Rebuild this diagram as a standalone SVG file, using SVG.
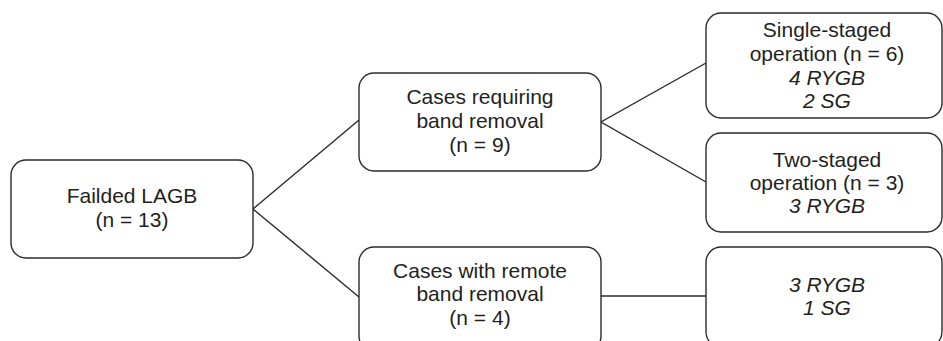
<svg xmlns="http://www.w3.org/2000/svg" width="943" height="341" viewBox="0 0 943 341">
<style>
.box{fill:#fff;stroke:#2b2b2b;stroke-width:1.4}
.t{font-family:"Liberation Sans",Arial,sans-serif;font-size:21px;fill:#231f20;text-anchor:middle}
.i{font-style:italic}
.c{stroke:#2b2b2b;stroke-width:1.4;fill:none}
</style>
<rect width="943" height="341" fill="#fff"/>
<g id="connectors">
<polyline class="c" points="359,120 253,209 359,297"/>
<polyline class="c" points="706,63 601,122 706,182"/>
<line class="c" x1="601" y1="296" x2="706" y2="296"/>
</g>
<g id="n1">
<rect class="box" x="11" y="160" width="242" height="98" rx="15"/>
<text class="t" x="132" y="203">Failded LAGB</text>
<text class="t" x="132" y="227">(n = 13)</text>
</g>
<g id="n2">
<rect class="box" x="359" y="73" width="242" height="98" rx="15"/>
<text class="t" x="480" y="104">Cases requiring</text>
<text class="t" x="480" y="128">band removal</text>
<text class="t" x="480" y="152">(n = 9)</text>
</g>
<g id="n3">
<rect class="box" x="359" y="247" width="242" height="104" rx="15"/>
<text class="t" x="480" y="278">Cases with remote</text>
<text class="t" x="480" y="301">band removal</text>
<text class="t" x="480" y="325">(n = 4)</text>
</g>
<g id="n4">
<rect class="box" x="706" y="13" width="236" height="105" rx="15"/>
<text class="t" x="827" y="37">Single-staged</text>
<text class="t" x="827" y="61">operation (n = 6)</text>
<text class="t i" x="827" y="85">4 RYGB</text>
<text class="t i" x="827" y="108">2 SG</text>
</g>
<g id="n5">
<rect class="box" x="706" y="133" width="236" height="99" rx="15"/>
<text class="t" x="827" y="167">Two-staged</text>
<text class="t" x="827" y="190">operation (n = 3)</text>
<text class="t i" x="827" y="213">3 RYGB</text>
</g>
<g id="n6">
<rect class="box" x="706" y="247" width="236" height="100" rx="15"/>
<text class="t i" x="827" y="292">3 RYGB</text>
<text class="t i" x="827" y="315">1 SG</text>
</g>
</svg>
